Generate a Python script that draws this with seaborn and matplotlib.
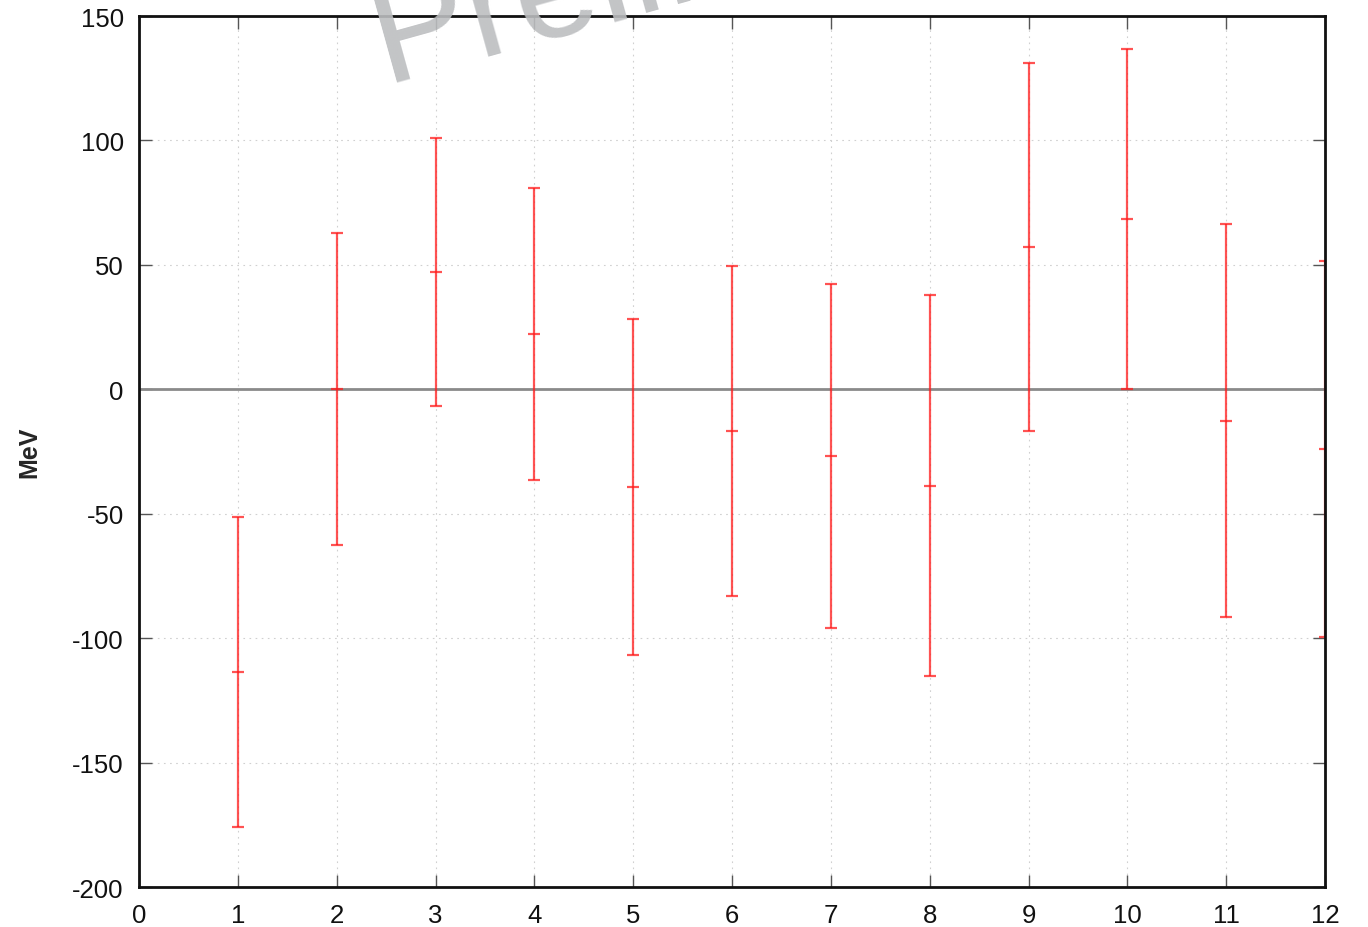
import matplotlib
matplotlib.use("Agg")
import matplotlib.pyplot as plt
import seaborn as sns
import numpy as np
import pandas as pd

# Data
x_vals = [1, 2, 3, 4, 5, 6, 7, 8, 9, 10, 11, 12]
centers = [-113.6, 0.0, 47.1, 22.2, -39.3, -16.8, -26.8, -38.8, 57.2, 68.4, -12.7, -23.9]
errors = [62.2, 62.7, 53.9, 58.6, 67.5, 66.3, 69.3, 76.5, 73.8, 68.2, 79.0, 75.5]
x_ticks = list(range(0, 13))
y_ticks = [-200, -150, -100, -50, 0, 50, 100, 150]

df = pd.DataFrame({"x": x_vals, "y": centers, "err": errors})

sns.set_theme(style="white")
plt.rcParams['font.family'] = ['Liberation Sans', 'DejaVu Sans']

fig = plt.figure(figsize=(13.68, 9.28), dpi=100)
ax = fig.add_axes([139/1368, 40/928, (1325-139)/1368, (888-17)/928])

ax.set_xlim(0, 12)
ax.set_ylim(-200, 150)

# grid
ax.grid(True, linestyle=(0, (1.5, 4)), color="#d0d0d0", linewidth=0.8)
ax.set_axisbelow(True)

# zero line
ax.axhline(0, color="#8a8a8a", linewidth=2.0, zorder=2)

red = (1.0, 0.1, 0.1, 0.75)
ax.errorbar(df["x"], df["y"], yerr=df["err"], fmt="none", ecolor=red,
            elinewidth=1.6, capsize=4.3, capthick=1.6, zorder=3)
sns.scatterplot(data=df, x="x", y="y", marker="_", s=80, color=red,
                linewidth=1.6, ax=ax, zorder=4, legend=False)

ax.set_xticks(x_ticks)
ax.set_yticks(y_ticks)
ax.set_xticklabels([str(t) for t in x_ticks])
ax.set_yticklabels([str(t) for t in y_ticks])
ax.tick_params(axis="both", direction="in", length=9, width=1.0, color="#555555",
               labelsize=18.5, top=True, right=True, bottom=True, left=True,
               labelcolor="#111111")
ax.tick_params(axis="y", pad=11)
ax.tick_params(axis="x", pad=11.5)
ax.set_xlabel("")
ax.set_ylabel("MeV", fontsize=18, fontweight="bold", labelpad=22)

for s in ax.spines.values():
    s.set_linewidth(2.0)
    s.set_color("#111111")
    s.set_zorder(6)

# watermark
fig.text(385/1368, 1 - 82/928, "Preliminary", fontsize=106, color="#bcbec0",
         rotation=15.5, ha="left", va="baseline", zorder=10, alpha=0.9,
         rotation_mode="anchor")

fig.savefig("out.png", dpi=100)
